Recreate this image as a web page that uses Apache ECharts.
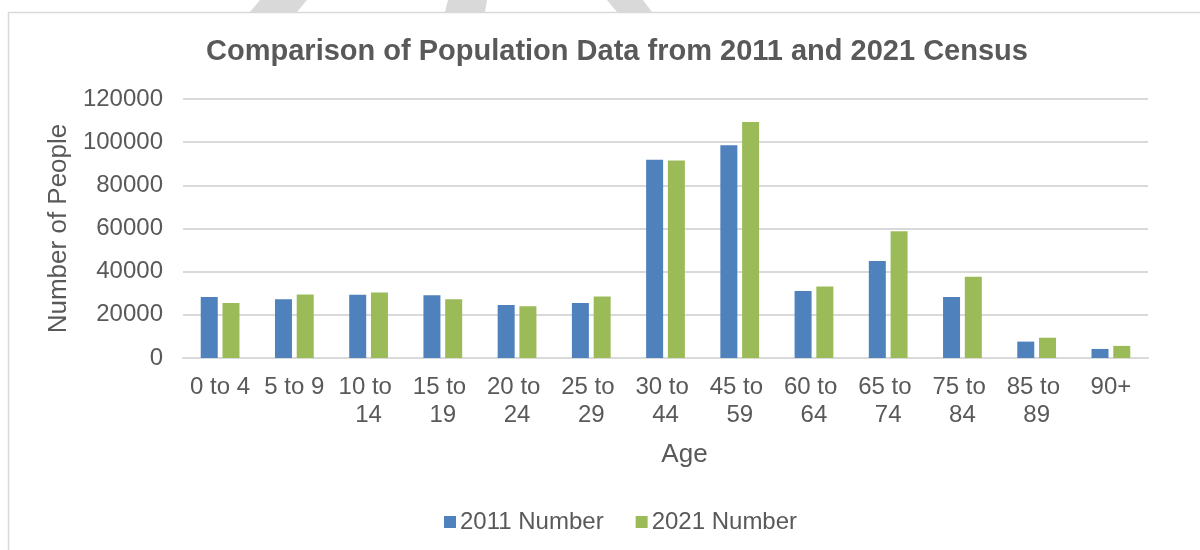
<!DOCTYPE html>
<html>
<head>
<meta charset="utf-8">
<script src="https://cdn.jsdelivr.net/npm/echarts@6/dist/echarts.min.js"></script>
<style>
html,body{margin:0;padding:0;background:#fff;}
#chart{width:1200px;height:550px;}
</style>
</head>
<body>
<div id="chart"></div>
<script>
var categories = ['0 to 4','5 to 9','10 to 14','15 to 19','20 to 24','25 to 29','30 to 44','45 to 59','60 to 64','65 to 74','75 to 84','85 to 89','90+'];
var values2011 = [28300, 27200, 29300, 29100, 24600, 25500, 91800, 98600, 31100, 45000, 28300, 7600, 4200];
var values2021 = [25500, 29400, 30300, 27200, 24000, 28500, 91500, 109300, 33100, 58700, 37600, 9400, 5600];
var yTicks = [0, 20000, 40000, 60000, 80000, 100000, 120000];

var textColor = '#595959';
var font = 'Liberation Sans, Arial, sans-serif';

var chart = echarts.init(document.getElementById('chart'));
chart.setOption({
  backgroundColor: '#ffffff',
  animation: false,
  title: {
    text: 'Comparison of Population Data from 2011 and 2021 Census',
    left: 612, textAlign: 'center', top: 32,
    textStyle: {fontFamily: font, fontSize: 29, fontWeight: 'bold', color: textColor}
  },
  legend: {
    left: 439, top: 505,
    itemWidth: 12, itemHeight: 12, itemGap: 32,
    icon: 'rect',
    textStyle: {fontFamily: font, fontSize: 24, color: textColor, padding: [0,0,0,-1]},
    data: ['2011 Number', '2021 Number']
  },
  grid: {left: 183, right: 52, top: 99, bottom: 192, containLabel: false},
  xAxis: {
    type: 'category',
    data: categories,
    name: 'Age',
    nameLocation: 'middle',
    nameGap: 84,
    nameTextStyle: {fontFamily: font, fontSize: 26, color: textColor, padding: [0,0,0,38]},
    axisLine: {show: true, lineStyle: {color: '#d9d9d9', width: 2}},
    axisTick: {show: false},
    axisLabel: {
      interval: 0, margin: 15, width: 72, overflow: 'break',
      fontFamily: font, fontSize: 24, lineHeight: 28, color: textColor
    }
  },
  yAxis: {
    type: 'value',
    min: yTicks[0], max: yTicks[yTicks.length - 1], interval: 20000,
    name: 'Number of People',
    nameLocation: 'middle',
    nameGap: 104,
    nameTextStyle: {fontFamily: font, fontSize: 26, color: textColor},
    axisLine: {show: false},
    axisTick: {show: false},
    axisLabel: {margin: 20, fontFamily: font, fontSize: 24, color: textColor,
      formatter: function (v) { return String(v); }},
    splitLine: {lineStyle: {color: '#d9d9d9', width: 2}}
  },
  series: [
    {name: '2011 Number', type: 'bar', data: values2011, barWidth: 17, barGap: '28%',
     itemStyle: {color: '#4F81BD'}},
    {name: '2021 Number', type: 'bar', data: values2021, barWidth: 17, barGap: '28%',
     itemStyle: {color: '#9BBB59'}}
  ],
  graphic: [
    {type: 'polygon', silent: true, shape: {points: [[260,0],[307,0],[297,12],[250,12]]}, style: {fill: '#d9d9d9'}},
    {type: 'polygon', silent: true, shape: {points: [[448,0],[487,0],[485,12],[445,12]]}, style: {fill: '#d9d9d9'}},
    {type: 'polygon', silent: true, shape: {points: [[607,0],[643,0],[652,12],[617,12]]}, style: {fill: '#d9d9d9'}},
    {type: 'line', silent: true, shape: {x1: 8, y1: 12.5, x2: 1200, y2: 12.5}, style: {stroke: '#d9d9d9', lineWidth: 1.5}},
    {type: 'line', silent: true, shape: {x1: 8.5, y1: 12, x2: 8.5, y2: 550}, style: {stroke: '#d9d9d9', lineWidth: 1.5}}
  ]
});
</script>
</body>
</html>
